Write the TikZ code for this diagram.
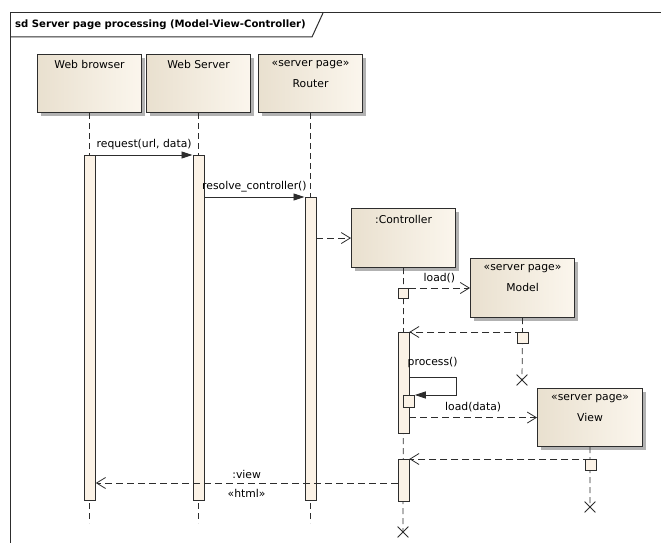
\documentclass[tikz,border=0pt]{standalone}
\usepackage{fontspec}
\setmainfont{DejaVu Sans}
\usetikzlibrary{arrows.meta,shadows,shapes.misc,positioning}

\definecolor{boxdark}{RGB}{233,224,207}
\definecolor{boxlight}{RGB}{251,246,237}
\definecolor{barfill}{RGB}{251,242,230}
\definecolor{edge}{RGB}{45,45,45}

\tikzset{
  msgfont/.style={font=\fontsize{10.8}{13}\selectfont},
  obj/.style={draw=edge, line width=1.1pt, left color=boxdark, right color=boxlight,
    minimum width=104pt, minimum height=58pt, inner sep=0pt, anchor=north west,
    drop shadow={shadow xshift=3pt, shadow yshift=-3pt, fill=black!30, opacity=1}},
  objtext/.style={msgfont, align=center, inner sep=0pt},
  actbar/.style={draw=edge, line width=0.8pt, fill=barfill, inner sep=0pt,
    anchor=north west, minimum width=11pt},
  life/.style={draw=edge, line width=0.7pt, dash pattern=on 6pt off 4pt},
  sync/.style={draw=edge, line width=0.8pt, -{Triangle[length=11pt,width=7pt]}},
  reply/.style={draw=edge, line width=0.8pt, dash pattern=on 7pt off 4pt,
    -{Straight Barb[length=9pt,width=11pt]}},
  destroy/.style={cross out, draw=edge, line width=0.8pt, minimum size=10pt, inner sep=0pt},
}

\begin{document}
\begin{tikzpicture}[x=1pt,y=-1pt]
  \useasboundingbox (0,0) rectangle (661,543);
  \draw[edge, line width=1pt] (10,543) |- (661,13);
  \draw[edge, line width=1pt] (10,37) -- (312,37) -- (323,13);
  \node[anchor=west, inner sep=0pt, font=\bfseries\fontsize{10.1}{12}\selectfont] (title) at (15,25)
    {sd Server page processing (Model-View-Controller)};

  \node[obj] (browser) at (37,54) {};
  \node[obj] (server) at (146,54) {};
  \node[obj] (router) at (258,54) {};
  \node[obj, minimum height=59pt] (ctrl) at (351,208) {};
  \node[obj, minimum height=59pt] (model) at (470,258) {};
  \node[obj, minimum height=58pt, minimum width=105pt] (view) at (537,388) {};

  \node[objtext, below=6.5pt of browser.north] (browser-t) {Web browser};
  \node[objtext, below=6.5pt of server.north] (server-t) {Web Server};
  \node[objtext, below=6.5pt of router.north] (router-s) {«server page»};
  \node[objtext, below=25.5pt of router.north] (router-t) {Router};
  \node[objtext, below=7pt of ctrl.north] (ctrl-t) {:Controller};
  \node[objtext, below=6.5pt of model.north] (model-s) {«server page»};
  \node[objtext, below=25.5pt of model.north] (model-t) {Model};
  \node[objtext, below=6.5pt of view.north] (view-s) {«server page»};
  \node[objtext, below=25.5pt of view.north] (view-t) {View};

  \node[destroy] (ctrl-x) at (403,532) {};
  \node[destroy] (model-x) at (522,380) {};
  \node[destroy] (view-x) at (590,507) {};

  \draw[life] (browser.south) -- ++(0,410);
  \draw[life] (server.south) -- ++(0,410);
  \draw[life] (router.south) -- ++(0,410);
  \draw[life] (ctrl.south) -- (ctrl-x.center);
  \draw[life] (model.south) -- (model-x.center);
  \draw[life] (view.south) -- (view-x.center);

  \node[actbar, minimum height=345pt] (browser-act) at (84,155) {};
  \node[actbar, minimum height=345pt] (server-act) at (192.5,155) {};
  \node[actbar, minimum height=303pt] (router-act) at (304.5,197) {};
  \node[actbar, minimum width=10pt, minimum height=10pt] (ctrl-a0) at (398,288) {};
  \node[actbar, minimum height=101pt] (ctrl-a1) at (397.5,332) {};
  \node[actbar, minimum height=12pt] (ctrl-a2) at (403,395) {};
  \node[actbar, minimum height=42pt] (ctrl-a3) at (397.5,459) {};
  \node[actbar, minimum height=11pt] (model-a0) at (516.5,332) {};
  \node[actbar, minimum height=11pt] (view-a0) at (584.5,459) {};

  \draw[sync] (browser-act.north east) -- node[msgfont, above=1.5pt] (m-request) {request(url, data)}
    (server-act.north west);
  \draw[sync] (server-act.east |- router-act.north) -- node[msgfont, above=1.5pt] (m-resolve) {resolve\_controller()}
    (router-act.north west);
  \draw[reply] (router-act.east |- ctrl.west) -- (ctrl.west);
  \draw[reply] (ctrl-a0.north east) -- node[msgfont, above=1.5pt] (m-load) {load()}
    (model.west |- ctrl-a0.north);
  \draw[reply] (model-a0.north) -- (ctrl-a1.north east);
  \coordinate (loop) at (456,377);
  \draw[sync] (ctrl-a1.east |- loop) -- node[msgfont, above=6pt] (m-process) {process()}
    (loop) |- (ctrl-a2.north east);
  \draw[reply] (ctrl-a1.east |- view.west) -- node[msgfont, above=1.5pt] (m-loaddata) {load(data)}
    (view.west);
  \draw[reply] (view-a0.north) -- (ctrl-a3.north east);
  \coordinate (html) at (245,483);
  \draw[reply] (ctrl-a3.west |- html) -- node[msgfont, above=1pt] (m-view) {:view}
    node[msgfont, below=3pt] (m-html) {«html»} (browser-act.east |- html);
\end{tikzpicture}
\end{document}
